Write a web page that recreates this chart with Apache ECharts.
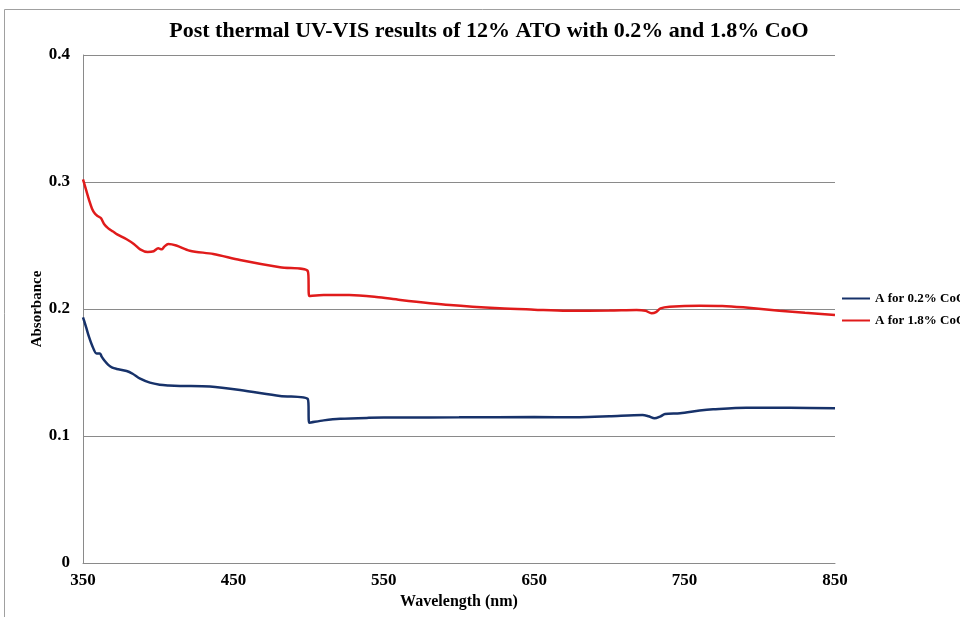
<!DOCTYPE html>
<html><head><meta charset="utf-8">
<script src="https://cdn.jsdelivr.net/npm/echarts@6/dist/echarts.min.js"></script>
<style>html,body{margin:0;padding:0;background:#fff}#c{width:960px;height:617px}</style>
</head><body><div id="c"></div>
<script>
const titleText = 'Post thermal UV-VIS results of 12% ATO with 0.2% and 1.8% CoO';
const seriesNames = ['A for 0.2% CoO', 'A for 1.8% CoO'];
const xTickLabels = [350, 450, 550, 650, 750, 850];
const yTickLabels = [0, 0.1, 0.2, 0.3, 0.4];

const blueWl = [350,352,354,356.4,359,361.3,362.4,364.5,366.8,369.5,372.4,379,383,388,394.5,401,407,414.5,434.4,454.4,481,499.5,500.5,510,521,540,560,600,650,680,700,722,726,730,734,737,747,760,769,791,820,850];
const blueAbs = [0.1935,0.186,0.178,0.1703,0.165,0.165,0.1625,0.159,0.156,0.1538,0.1528,0.1512,0.149,0.1451,0.142,0.1404,0.1398,0.1394,0.1389,0.1362,0.1315,0.1291,0.1105,0.1123,0.1136,0.1143,0.1146,0.1147,0.1149,0.1148,0.1155,0.1165,0.1155,0.1139,0.1155,0.1173,0.1179,0.120,0.121,0.1223,0.1222,0.1218];

const redWl = [350,352,354,356,358,360,362,364,366.8,370,372.4,379,384,388,393,397,400,402.3,404,406.7,412,421,436.6,454.4,481,499.5,500.5,510,527,545,561,594,627,650,672,700,718,724,728,731,734,740,760,775,789,813,830,850];
const redAbs = [0.302,0.294,0.286,0.279,0.275,0.273,0.2714,0.267,0.2635,0.261,0.259,0.2549,0.251,0.247,0.2449,0.2455,0.2478,0.247,0.249,0.2512,0.250,0.2459,0.2433,0.2386,0.2328,0.2297,0.2102,0.211,0.211,0.2095,0.2071,0.2031,0.2005,0.1995,0.1987,0.1988,0.1992,0.1986,0.1966,0.1975,0.2005,0.2018,0.2026,0.2024,0.2013,0.1987,0.197,0.1953];

const serif = '"Liberation Serif", "Times New Roman", serif';
const chart = echarts.init(document.getElementById('c'));
chart.setOption({
  animation: false,
  backgroundColor: '#fff',
  graphic: [{type:'rect', shape:{x:4.5,y:9.5,width:1000,height:700}, style:{fill:'none', stroke:'#a0a0a0', lineWidth:1}, silent:true}],
  title: {text: titleText, left: 484, top: 15, textAlign: 'center',
    textStyle:{fontFamily: serif, fontWeight:'bold', fontSize:22, color:'#000'}},
  legend: {orient:'vertical', left: 837, top: 287, itemGap: 9, itemWidth: 28, itemHeight: 10,
    icon: 'path://M0,4 L28,4 L28,6 L0,6 Z',
    textStyle:{fontFamily: serif, fontWeight:'bold', fontSize:13, color:'#000'},
    data: seriesNames},
  grid: {left: 83, right: 125, top: 55, bottom: 54, containLabel: false},
  xAxis: {type:'value', min:350, max:850, interval:50,
    name:'Wavelength (nm)', nameLocation:'middle', nameGap: 30,
    nameTextStyle:{fontFamily: serif, fontWeight:'bold', fontSize:16, color:'#000'},
    axisLine:{show:true, lineStyle:{color:'#8a8a8a', width:1}},
    axisTick:{show:false}, splitLine:{show:false},
    axisLabel:{margin: 9, fontFamily: serif, fontWeight:'bold', fontSize:17, color:'#000',
      formatter: v => xTickLabels.includes(v) ? String(v) : ''}},
  yAxis: {type:'value', min:0, max:0.4, interval:0.1,
    name:'Absorbance', nameLocation:'middle', nameGap: 38, nameRotate: 90, nameMoveOverlap: false,
    nameTextStyle:{fontFamily: serif, fontWeight:'bold', fontSize:15, color:'#000'},
    axisLine:{show:true, lineStyle:{color:'#8a8a8a', width:1}},
    axisTick:{show:false},
    splitLine:{show:true, lineStyle:{color:'#8a8a8a', width:1}},
    axisLabel:{margin: 13, fontFamily: serif, fontWeight:'bold', fontSize:17, color:'#000',
      formatter: v => { const t = yTickLabels.find(x => Math.abs(x - v) < 1e-9); return t === undefined ? '' : String(t); }}},
  series: [
    {name: seriesNames[0], type:'line', showSymbol:false, symbol:'none', smooth:0.3,
      data: blueWl.map((w,i)=>[w, blueAbs[i]]),
      lineStyle:{color:'#17326a', width:2.5}, itemStyle:{color:'#17326a'}},
    {name: seriesNames[1], type:'line', showSymbol:false, symbol:'none', smooth:0.3,
      data: redWl.map((w,i)=>[w, redAbs[i]]),
      lineStyle:{color:'#e01b1b', width:2.5}, itemStyle:{color:'#e01b1b'}}
  ]
});
</script></body></html>
